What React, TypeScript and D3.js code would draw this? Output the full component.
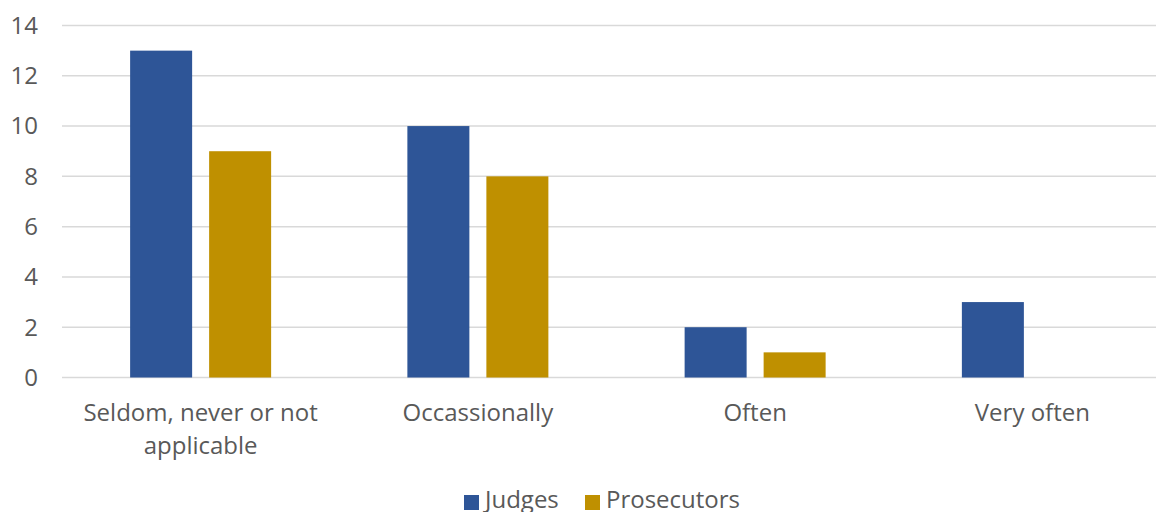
import React from "react";
import * as d3 from "d3";

const categories = ["Seldom, never or not|applicable", "Occassionally", "Often", "Very often"];
const judges = [13, 10, 2, 3];
const prosecutors = [9, 8, 1, 0];
const seriesNames = ["Judges", "Prosecutors"];
const yTicks = [0, 2, 4, 6, 8, 10, 12, 14];

const W = 1156, H = 512;
const colors = ["#2E5597", "#BF9000"];

export default function App() {
  const x0 = d3.scaleBand().domain(categories).range([62, 1171]).paddingInner(0).paddingOuter(0);
  const y = d3.scaleLinear().domain([0, 14]).range([377.5, 25.5]);
  const bw = 62, gap = 17;
  const series = [judges, prosecutors];
  return (
    <svg width={W} height={H} style={{ position: "absolute", left: 0, top: 0, fontFamily: "'Open Sans'" }}>
      <rect width={W} height={H} fill="#fff" />
      {yTicks.map((t) => (
        <g key={t}>
          <line x1={62} x2={W} y1={y(t)} y2={y(t)} stroke="#D9D9D9" strokeWidth={1.5} />
          <text x={38} y={y(t)} dy="0.35em" textAnchor="end" fontSize={24} fill="#595959">{t}</text>
        </g>
      ))}
      {categories.map((c, i) => {
        const cx = x0(c)! + x0.bandwidth() / 2;
        const start = cx - (2 * bw + gap) / 2;
        return (
          <g key={c}>
            {series.map((s, j) => (
              <rect key={j} x={start + j * (bw + gap)} y={y(s[i])} width={bw} height={y(0) - y(s[i])} fill={colors[j]} />
            ))}
            {c.split("|").map((line, k) => (
              <text key={k} x={cx} y={421 + k * 33} textAnchor="middle" fontSize={24} fill="#595959">{line}</text>
            ))}
          </g>
        );
      })}
      <g>
        <rect x={464} y={495} width={15} height={15} fill={colors[0]} />
        <text x={485} y={508} fontSize={24} fill="#595959">{seriesNames[0]}</text>
        <rect x={585} y={495} width={15} height={15} fill={colors[1]} />
        <text x={606} y={508} fontSize={24} fill="#595959">{seriesNames[1]}</text>
      </g>
    </svg>
  );
}
